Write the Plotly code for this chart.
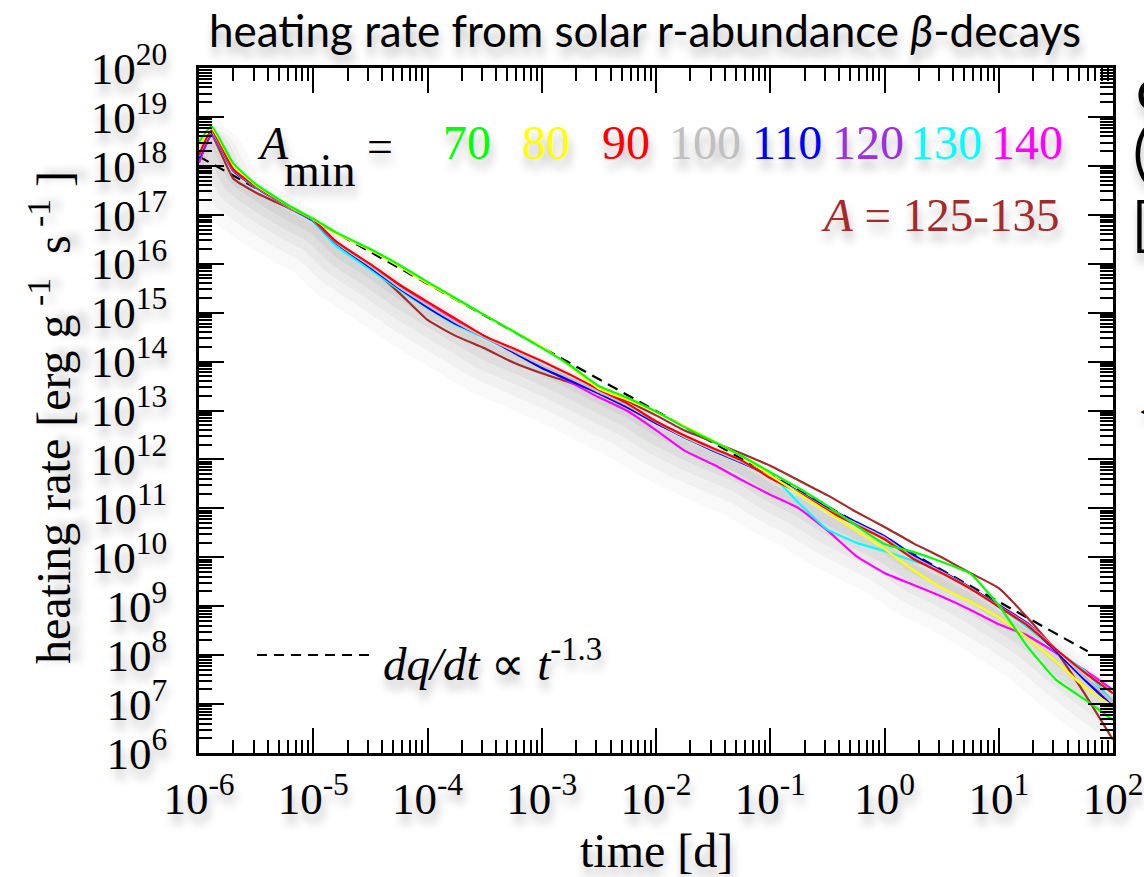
import numpy as np
import plotly.graph_objects as go

# ---------------- data (log10 values) ----------------
log_t = [-6.0, -5.89, -5.7, -5.5, -5.2, -5.0, -4.8, -4.5, -4.25, -4.0, -3.75, -3.5,
         -3.25, -3.0, -2.75, -2.5, -2.25, -2.0, -1.75, -1.5, -1.25, -1.0, -0.75,
         -0.5, -0.25, 0.0, 0.25, 0.5, 0.75, 1.0, 1.25, 1.5, 1.75, 2.0]

logq_70 = [18.49, 18.81, 18.05, 17.62, 17.17, 16.92, 16.64, 16.30, 15.98, 15.63, 15.29, 14.95,
           14.62, 14.28, 13.92, 13.50, 13.26, 12.98, 12.66, 12.37, 12.07, 11.74, 11.41,
           11.05, 10.65, 10.27, 10.11, 9.91, 9.67, 9.02, 8.18, 7.50, 7.10, 6.67]
logq_80 = [18.43, 18.77, 18.02, 17.60, 17.16, 16.91, 16.62, 16.28, 15.95, 15.60, 15.27, 14.95,
           14.62, 14.30, 13.90, 13.45, 13.22, 12.97, 12.68, 12.38, 12.06, 11.68, 11.30,
           10.93, 10.55, 10.17, 9.74, 9.38, 9.09, 8.77, 8.35, 7.87, 7.35, 6.95]
logq_90 = [18.22, 18.73, 17.93, 17.58, 17.15, 16.90, 16.45, 15.99, 15.58, 15.22, 14.87, 14.52,
           14.27, 14.01, 13.73, 13.43, 13.14, 12.78, 12.49, 12.23, 11.98, 11.62, 11.32,
           10.96, 10.66, 10.37, 9.97, 9.68, 9.36, 8.99, 8.61, 8.12, 7.65, 7.22]
logq_100 = [18.20, 18.70, 17.92, 17.57, 17.14, 16.89, 16.43, 15.95, 15.52, 15.15, 14.80, 14.50,
            14.22, 13.92, 13.66, 13.38, 13.10, 12.77, 12.46, 12.20, 11.95, 11.64, 11.33,
            10.98, 10.69, 10.40, 10.00, 9.70, 9.37, 9.00, 8.63, 8.12, 7.55, 7.05]
logq_110 = [18.16, 18.68, 17.91, 17.56, 17.14, 16.88, 16.42, 15.92, 15.50, 15.11, 14.77, 14.52,
            14.19, 13.87, 13.61, 13.35, 13.06, 12.74, 12.45, 12.18, 11.93, 11.66, 11.34,
            11.01, 10.72, 10.43, 10.05, 9.72, 9.38, 9.02, 8.64, 8.08, 7.50, 6.95]
logq_120 = [18.12, 18.66, 17.90, 17.56, 17.14, 16.88, 16.43, 15.95, 15.53, 15.14, 14.78, 14.50,
            14.20, 13.88, 13.62, 13.36, 13.08, 12.75, 12.46, 12.19, 11.94, 11.66, 11.34,
            11.00, 10.71, 10.42, 10.03, 9.71, 9.38, 9.02, 8.66, 8.12, 7.55, 7.05]
logq_130 = [18.16, 18.66, 17.90, 17.55, 17.13, 16.86, 16.36, 15.88, 15.47, 15.10, 14.75, 14.48,
            14.20, 13.88, 13.64, 13.38, 13.08, 12.75, 12.48, 12.20, 11.94, 11.70, 11.11,
            10.57, 10.30, 10.13, 9.93, 9.71, 9.38, 9.00, 8.57, 8.10, 7.68, 7.05]
logq_140 = [18.06, 18.64, 17.90, 17.56, 17.14, 16.88, 16.42, 15.95, 15.55, 15.17, 14.82, 14.50,
            14.20, 13.90, 13.58, 13.27, 12.99, 12.60, 12.18, 11.90, 11.58, 11.28, 11.00,
            10.55, 10.03, 9.68, 9.44, 9.20, 8.93, 8.63, 8.40, 8.05, 7.70, 7.29]
logq_125_135 = [18.10, 18.62, 17.74, 17.45, 17.12, 16.88, 16.45, 15.92, 15.41, 14.85, 14.52, 14.27,
                13.98, 13.76, 13.57, 13.38, 13.19, 12.90, 12.59, 12.36, 12.12, 11.87, 11.57,
                11.27, 10.93, 10.62, 10.29, 10.00, 9.68, 9.37, 8.77, 8.09, 7.22, 6.27]

# power law dq/dt ~ t^-1.3 (end points)
powerlaw_t = [1.0e-6, 60.0]
powerlaw_q = [1.55e18, 1.2e8]

amin_labels = ["70", "80", "90", "100", "110", "120", "130", "140"]
amin_colors = ["#00ff00", "#ffff00", "#ff0000", "#c0c0c0", "#0000ff", "#9b30e0", "#00ffff", "#ff00ff"]
brown = "#a52a2a"

x_tick_exp = list(range(-6, 3))
y_tick_exp = list(range(6, 21))

# ---------------- figure ----------------
W, H = 1144, 877
L, R, T, B = 199, 1113, 68, 753


def px(xp):
    return (xp - L) / (R - L)


def py(yp):
    return (B - yp) / (B - T)


SERIF = "Liberation Serif"
SHADOW = "2px 9px 10px rgba(0,0,0,0.28)"

t = 10 ** np.array(log_t)
fig = go.Figure()

# soft shadow under the bundle of curves
base = np.array(logq_90)
for off, wdt, alpha in [(0.55, 64, 0.025), (0.45, 46, 0.03), (0.36, 32, 0.035),
                        (0.28, 20, 0.04), (0.2, 9, 0.045)]:
    fig.add_trace(go.Scatter(x=t, y=10 ** (base - off), mode="lines",
                             line=dict(color=f"rgba(0,0,0,{alpha})", width=wdt,
                                       shape="spline", smoothing=0.6),
                             hoverinfo="skip", showlegend=False))

fig.add_trace(go.Scatter(x=powerlaw_t, y=powerlaw_q, mode="lines",
                         line=dict(color="black", width=2.2, dash="11px,7px"),
                         showlegend=False))

series = [logq_70, logq_80, logq_90, logq_100, logq_110, logq_120, logq_130, logq_140]
fig.add_trace(go.Scatter(x=t, y=10 ** np.array(logq_125_135), mode="lines",
                         line=dict(color=brown, width=2.2, shape="spline", smoothing=0.4),
                         showlegend=False))
for lab, col, s in list(zip(amin_labels, amin_colors, series))[::-1]:
    fig.add_trace(go.Scatter(x=t, y=10 ** np.array(s), mode="lines", name=lab,
                             line=dict(color=col, width=2.2, shape="spline", smoothing=0.4),
                             showlegend=False))

x_minor = [m * 10.0 ** k for k in range(-6, 2) for m in range(2, 10)]
y_minor = [m * 10.0 ** k for k in range(6, 20) for m in range(2, 10)]

axis_common = dict(
    type="log", showline=True, linecolor="black", linewidth=2.5, mirror="ticks",
    ticks="inside", ticklen=25, tickwidth=2, tickcolor="black", showgrid=False,
    zeroline=False, tickmode="array", automargin=False,
    tickfont=dict(family=SERIF, size=45, color="black", shadow=SHADOW),
)
fig.update_xaxes(**axis_common, range=[-6, 2],
                 tickvals=[10.0 ** k for k in x_tick_exp],
                 ticktext=[f"10<sup>{k}</sup>" for k in x_tick_exp],
                 ticklabelstandoff=4,
                 minor=dict(ticks="inside", ticklen=13, tickwidth=1.6, tickcolor="black",
                            tickmode="array", tickvals=x_minor, showgrid=False))
fig.update_yaxes(**axis_common, range=[6, 20],
                 tickvals=[10.0 ** k for k in y_tick_exp],
                 ticktext=[f"10<sup>{k}</sup>" for k in y_tick_exp],
                 ticklabelstandoff=20,
                 minor=dict(ticks="inside", ticklen=13, tickwidth=1.6, tickcolor="black",
                            tickmode="array", tickvals=y_minor, showgrid=False))

ann = []


def text(x, y, s, size=46, color="black", family=SERIF, xanchor="center", angle=0):
    ann.append(dict(x=px(x), y=py(y), xref="paper", yref="paper", text=s, showarrow=False,
                    xanchor=xanchor, yanchor="middle", textangle=angle,
                    font=dict(family=family, size=size, color=color, shadow=SHADOW)))


# title
text(645, 30, "heating rate from solar r-abundance <i>β</i>-decays", size=44,
     family="Lato")
# axis titles
text(656, 850, "time [d]", size=48)
text(50, 418, "heating rate [erg g<sup> -1</sup>  s<sup> -1</sup> ]", size=48, angle=-90)

# A_min legend
text(273, 143, "<i>A</i>", size=46)
text(320, 170, "min", size=46)
text(380, 146, "=", size=46)
num_centers = [467, 546, 626, 705, 787, 868, 946, 1027]
for lab, col, cx in zip(amin_labels, amin_colors, num_centers):
    text(cx, 142, lab, size=48, color=col)
text(1061, 215, "<i>A</i> = 125-135", size=47, color=brown, xanchor="right")

# power-law legend
text(381, 660, "<i>dq/dt</i> ∝ <i>t</i><sup>-1.3</sup>", size=47, xanchor="left")

# fragments of neighbouring text cut by the right edge
text(1134, 88, "c", size=58, family="Lato", xanchor="left")
text(1131, 150, "(", size=58, family="Lato", xanchor="left")
text(1130, 222, "[", size=58, family="Lato", xanchor="left")
text(1137, 410, "<", size=24, family="Lato", xanchor="left")

fig.update_layout(
    width=W, height=H,
    margin=dict(l=L, r=W - R, t=T, b=H - B, autoexpand=False),
    paper_bgcolor="white", plot_bgcolor="white",
    annotations=ann,
    shapes=[dict(type="line", xref="paper", yref="paper", x0=px(257), x1=px(369),
                 y0=py(655), y1=py(655), line=dict(color="black", width=2, dash="10px,7px"))],
    showlegend=False,
)

fig.write_html("out.html")
